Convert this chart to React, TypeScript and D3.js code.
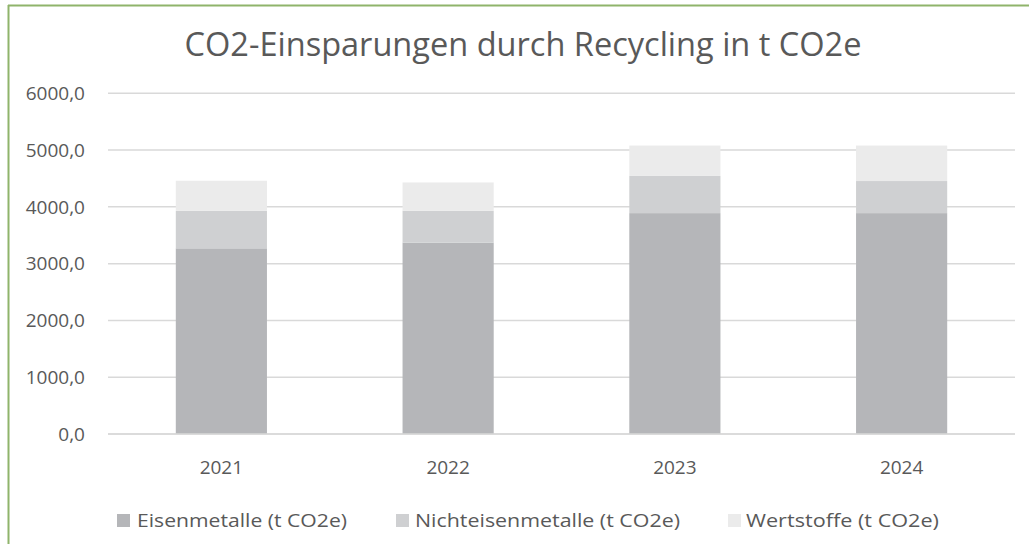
import React from "react";
import * as d3 from "d3";

const years = ["2021", "2022", "2023", "2024"];
const eisen = [3270, 3370, 3890, 3890];
const nichteisen = [660, 560, 655, 565];
const wertstoffe = [530, 500, 535, 625];
const seriesNames = ["Eisenmetalle (t CO2e)", "Nichteisenmetalle (t CO2e)", "Wertstoffe (t CO2e)"];
const seriesColors = ["#b5b6b9", "#cfd0d2", "#ebebeb"];
const yTicks = [0, 1000, 2000, 3000, 4000, 5000, 6000];

const W = 1029, H = 544;
const plot = { left: 108, right: 1015, top: 93.3, bottom: 434 };
const FONT = "'Open Sans', sans-serif";
const TEXT = "#595959";

export default function App() {
  const x = d3.scaleBand<string>().domain(years).range([plot.left, plot.right]).padding(0);
  const y = d3.scaleLinear().domain([0, 6000]).range([plot.bottom, plot.top]);
  const rows = years.map((yr, i) => ({ year: yr, e: eisen[i], n: nichteisen[i], w: wertstoffe[i] }));
  const stack = d3.stack<any>().keys(["e", "n", "w"]);
  const layers = stack(rows);
  const bw = x.bandwidth() * 0.402;
  const fmt = (v: number) => v.toFixed(1).replace(".", ",");

  const legendItems = [
    { sq: 117, tx: 137, len: 210 },
    { sq: 396, tx: 415, len: 265 },
    { sq: 728, tx: 746, len: 193 },
  ];

  return (
    <svg width={W} height={H} style={{ position: "absolute", left: 0, top: 0, background: "#fff" }} fontFamily={FONT}>
      <rect x={0} y={0} width={W} height={H} fill="#fff" />
      <line x1={8} x2={W} y1={5.5} y2={5.5} stroke="#8fb46b" strokeWidth={2} />
      <line x1={8.5} x2={8.5} y1={5} y2={H} stroke="#8fb46b" strokeWidth={2} />
      <text x={523} y={56} textAnchor="middle" fontSize={33} fill={TEXT} textLength={677} lengthAdjust="spacingAndGlyphs">
        CO2-Einsparungen durch Recycling in t CO2e
      </text>
      {yTicks.map((t) => (
        <g key={t}>
          <line x1={plot.left} x2={plot.right} y1={y(t)} y2={y(t)} stroke="#d9d9d9" strokeWidth={1.5} />
          <text x={85} y={y(t)} dy="0.36em" textAnchor="end" fontSize={19} fill={TEXT}>
            {fmt(t)}
          </text>
        </g>
      ))}
      {layers.map((layer, li) => (
        <g key={li} fill={seriesColors[li]}>
          {layer.map((d, i) => (
            <rect
              key={i}
              x={(x(years[i]) as number) + x.bandwidth() / 2 - bw / 2}
              y={y(d[1])}
              width={bw}
              height={y(d[0]) - y(d[1])}
            />
          ))}
        </g>
      ))}
      <line x1={plot.left} x2={plot.right} y1={y(0)} y2={y(0)} stroke="#d9d9d9" strokeWidth={1.5} />
      {years.map((yr) => (
        <text key={yr} x={(x(yr) as number) + x.bandwidth() / 2} y={474} textAnchor="middle" fontSize={19} fill={TEXT}>
          {yr}
        </text>
      ))}
      {seriesNames.map((name, i) => (
        <g key={name}>
          <rect x={legendItems[i].sq} y={514} width={13} height={13} fill={seriesColors[i]} />
          <text x={legendItems[i].tx} y={527} fontSize={19} fill={TEXT} textLength={legendItems[i].len} lengthAdjust="spacingAndGlyphs">
            {name}
          </text>
        </g>
      ))}
    </svg>
  );
}
